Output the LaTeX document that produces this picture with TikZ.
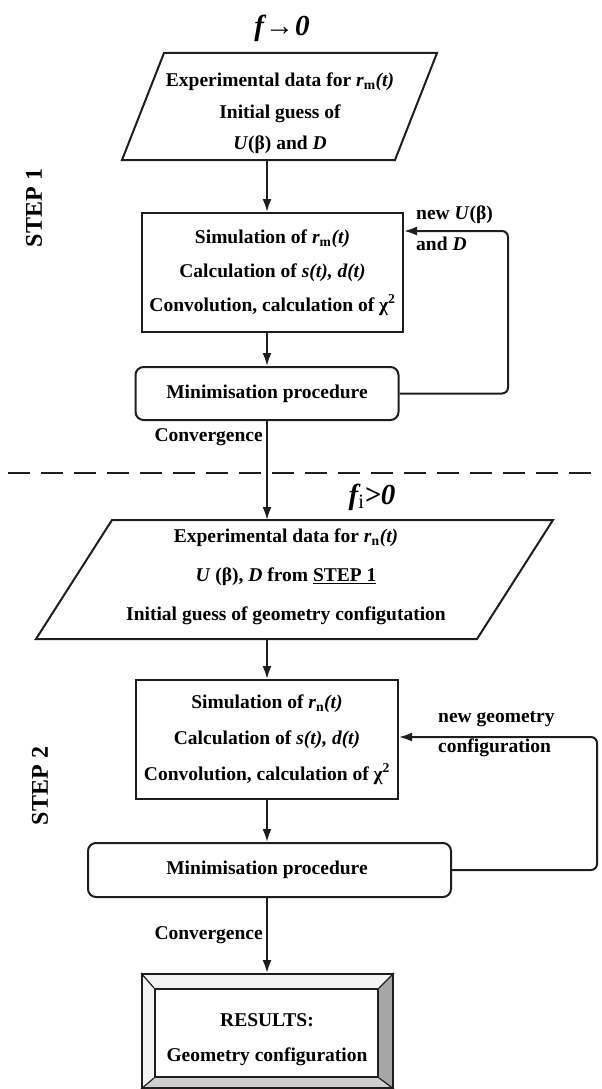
\documentclass[tikz,border=0pt]{standalone}
\usepackage{fontspec}
\setmainfont{Liberation Serif}
\usetikzlibrary{arrows.meta}
\definecolor{lc}{HTML}{1E1E1E}
\definecolor{bevright}{HTML}{A6A6A6}
\definecolor{bevbottom}{HTML}{CFCFCF}
\definecolor{bevlight}{HTML}{F4F4F4}
\tikzset{
  ln/.style={line width=2pt, draw=lc},
  arr/.style={ln, -{Latex[length=13pt,width=9pt]}},
  txt/.style={font=\bfseries\fontsize{19.5}{34}\selectfont, align=center, inner sep=0pt},
  lbl/.style={font=\bfseries\fontsize{19.5}{28}\selectfont, inner sep=0pt},
  procbox/.style={ln, rectangle, inner sep=0pt},
  minbox/.style={ln, rectangle, rounded corners=8pt, inner sep=0pt},
  titletxt/.style={font=\bfseries\itshape\fontsize{29}{32}\selectfont, inner sep=0pt},
  steptxt/.style={font=\bfseries\fontsize{24}{28}\selectfont, inner sep=0pt},
}
\begin{document}
\begin{tikzpicture}[x=1pt,y=-1pt]
\useasboundingbox (0,0) rectangle (602,1089);

% ---------- STEP 1 ----------
\node[titletxt, anchor=base] (t1) at (282,36) {f\kern1pt→\kern1pt0};
\node[steptxt, rotate=90] (s1) at (34,208) {STEP 1};

\draw[ln] (164,53) -- (437,53) -- (395,160) -- (122,160) -- cycle;
\node[txt, font=\bfseries\fontsize{19.5}{31.5}\selectfont] (p1) at (280,113.5)
  {Experimental data for \textit{r}\textsubscript{m}\textit{(t)}\\Initial guess of\\\textit{U}(β) and \textit{D}};
\coordinate (p1b) at (267,160);

\node[procbox, txt, minimum width=261pt, minimum height=119pt] (box1) at (272.5,272.5)
  {Simulation of \textit{r}\textsubscript{m}\textit{(t)}\\Calculation of \textit{s(t), d(t)}\\Convolution, calculation of χ\textsuperscript{2}};

\node[minbox, txt, minimum width=263pt, minimum height=53pt] (min1) at (267,393.5) {Minimisation procedure};

\draw[arr] (p1b) -- (p1b |- box1.north);
\draw[arr] (box1.south -| min1.north) -- (min1.north);
\coordinate (fb1) at (508,231);
\draw[arr, rounded corners=6pt] (min1.east) -- (min1.east -| fb1) -- (fb1) -- (fb1 -| box1.east);
\node[lbl, anchor=west] (fl1) at (416,215) {new \textit{U}(β)};
\node[lbl, anchor=west] (fl2) at (416,244) {and \textit{D}};

\node[lbl, anchor=east] (conv1) at (263,437) {Convergence};

% ---------- separator ----------
\draw[line width=2.6pt, draw=lc, dash pattern=on 22pt off 11pt] (8,473) -- (596,473);

% ---------- STEP 2 ----------
\node[titletxt, anchor=base] (t2) at (372,504) {f\textsubscript{\mdseries\upshape i}>0};
\node[steptxt, rotate=90] (s2) at (40,786) {STEP 2};

\coordinate (p2t) at (267,520);
\draw[arr] (min1.south) -- (p2t);
\draw[ln] (112,520) -- (553,520) -- (477,639) -- (36,639) -- cycle;
\node[txt, font=\bfseries\fontsize{19.5}{39}\selectfont] (p2) at (286,577)
  {Experimental data for \textit{r}\textsubscript{n}\textit{(t)}\\\textit{U} (β), \textit{D} from \underline{STEP 1}\\Initial guess of geometry configutation};
\coordinate (p2b) at (267,639);

\node[procbox, txt, font=\bfseries\fontsize{19.5}{36}\selectfont, minimum width=262pt, minimum height=119pt] (box2) at (267,739.5)
  {Simulation of \textit{r}\textsubscript{n}\textit{(t)}\\Calculation of \textit{s(t), d(t)}\\Convolution, calculation of χ\textsuperscript{2}};

\node[minbox, txt, minimum width=363pt, minimum height=54pt] (min2) at (269.5,870) {};
\node[txt] (min2t) at (267,870) {Minimisation procedure};

\draw[arr] (p2b) -- (p2b |- box2.north);
\draw[arr] (box2.south) -- (box2.south |- min2.north);
\coordinate (fb2) at (597,737);
\draw[arr, rounded corners=6pt] (min2.east) -- (min2.east -| fb2) -- (fb2) -- (fb2 -| box2.east);
\node[lbl, anchor=west] (fl3) at (438,719) {new geometry};
\node[lbl, anchor=west] (fl4) at (438,748) {configuration};

\node[lbl, anchor=east] (conv2) at (263,935) {Convergence};

% ---------- RESULTS ----------
\fill[bevlight] (142,974) -- (393,974) -- (378,989) -- (155,989) -- cycle;
\fill[bevlight] (142,974) -- (155,989) -- (155,1077) -- (142,1088) -- cycle;
\fill[bevright] (393,974) -- (393,1088) -- (378,1077) -- (378,989) -- cycle;
\fill[bevbottom] (142,1088) -- (393,1088) -- (378,1077) -- (155,1077) -- cycle;
\node[ln, rectangle, inner sep=0pt, minimum width=251pt, minimum height=114pt] (res) at (267.5,1031) {};
\node[ln, rectangle, inner sep=0pt, fill=white, minimum width=223pt, minimum height=88pt] (resin) at (266.5,1033) {};
\draw[ln, line width=1.2pt] (res.north west) -- (resin.north west);
\draw[ln, line width=1.2pt] (res.north east) -- (resin.north east);
\draw[ln, line width=1.2pt] (res.south west) -- (resin.south west);
\draw[ln, line width=1.2pt] (res.south east) -- (resin.south east);
\node[txt, font=\bfseries\fontsize{19.5}{35}\selectfont] (restxt) at (267,1039.5) {RESULTS:\\Geometry configuration};

\draw[arr] (min2.south -| box2.south) -- (res.north -| box2.south);
\end{tikzpicture}
\end{document}
